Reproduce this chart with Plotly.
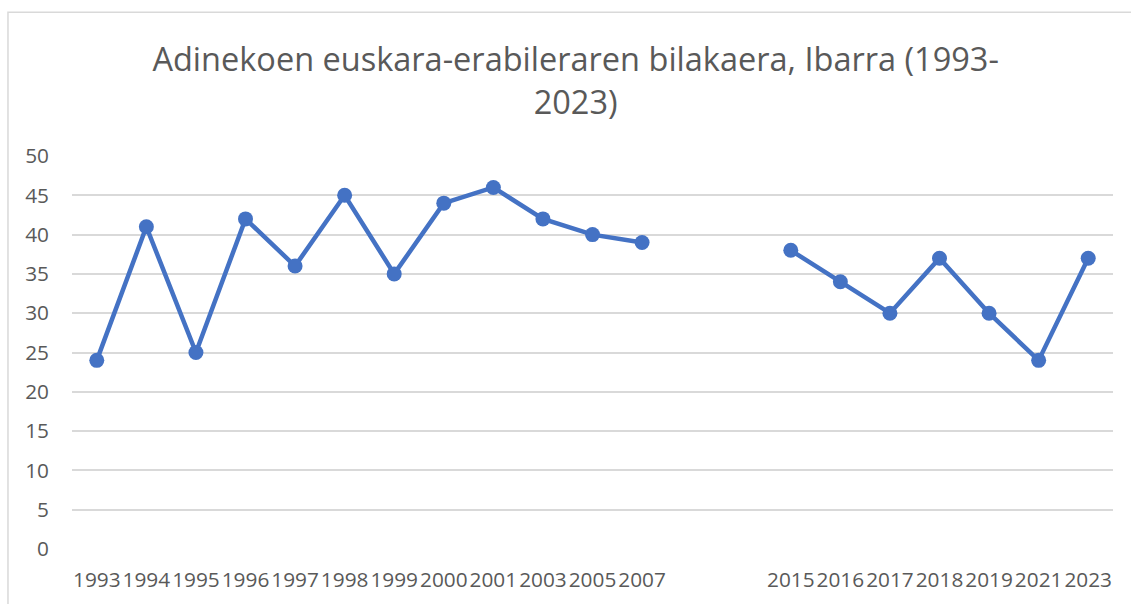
import plotly.graph_objects as go

years = ["1993", "1994", "1995", "1996", "1997", "1998", "1999", "2000", "2001",
         "2003", "2005", "2007", "", "", "2015", "2016", "2017", "2018", "2019",
         "2021", "2023"]
values = [24, 41, 25, 42, 36, 45, 35, 44, 46, 42, 40, 39, None, None,
          38, 34, 30, 37, 30, 24, 37]
y_ticks = [0, 5, 10, 15, 20, 25, 30, 35, 40, 45, 50]
title_text = "Adinekoen euskara-erabileraren bilakaera, Ibarra (1993-<br>2023)"

positions = list(range(len(years)))
tick_pos = [p for p, y in zip(positions, years) if y]
tick_txt = [y for y in years if y]

fig = go.Figure()
fig.add_trace(go.Scatter(
    x=positions, y=values, mode="lines+markers",
    line=dict(color="#4472C4", width=4.5),
    marker=dict(color="#4472C4", size=15),
    connectgaps=False, hoverinfo="x+y",
))

fig.update_layout(
    width=1131, height=604,
    margin=dict(l=72, r=18, t=156, b=55),
    paper_bgcolor="white", plot_bgcolor="white",
    showlegend=False,
    font=dict(family="Open Sans", color="#595959"),
    title=dict(text=title_text, x=0.509, xanchor="center", y=0.882, yanchor="middle",
               font=dict(family="Open Sans", size=32.5, color="#595959")),
    xaxis=dict(range=[-0.5, len(years) - 0.5], tickvals=tick_pos, ticktext=tick_txt,
               tickangle=0, showgrid=False, zeroline=False, showline=False,
               tickfont=dict(size=20.8, color="#595959"), ticklabelstandoff=16,
               fixedrange=True),
    yaxis=dict(range=[0, 50], tickvals=y_ticks, showgrid=True, gridcolor="#D9D9D9",
               gridwidth=1.5, zeroline=False, showline=False,
               tickfont=dict(size=20.8, color="#595959"), ticklabelstandoff=22,
               fixedrange=True),
    shapes=[dict(type="rect", xref="paper", yref="paper",
                 x0=-0.0615, x1=1.2, y0=-0.5, y1=1.366,
                 line=dict(color="#D9D9D9", width=1.5), fillcolor="rgba(0,0,0,0)",
                 layer="below")],
)

fig.write_html("out.html", config={"displayModeBar": False},
               post_script="document.body.style.margin='0px';")
